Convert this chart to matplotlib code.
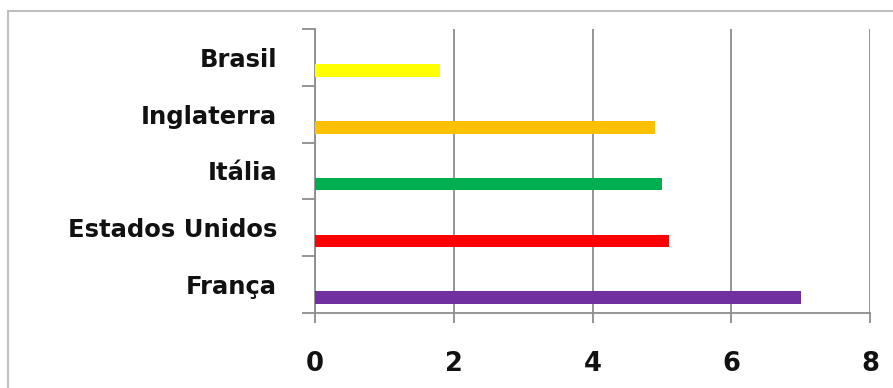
import matplotlib
matplotlib.use("Agg")
import matplotlib.pyplot as plt
from matplotlib.patches import Rectangle

categories = ["França", "Estados Unidos", "Itália", "Inglaterra", "Brasil"]
values = [7.0, 5.1, 5.0, 4.9, 1.8]
colors = ["#7030A0", "#FF0000", "#00B050", "#FFC000", "#FFFF00"]
xticks = [0, 2, 4, 6, 8]

plt.rcParams['font.family'] = ['DejaVu Sans']

W, H = 893, 388
PX = 72 / 100  # points per pixel
fig = plt.figure(figsize=(W / 100, H / 100), dpi=100)
fig.patch.set_facecolor("white")

left, right, top, bottom = 315, 870, 29, 313
ax = fig.add_axes([left / W, 1 - bottom / H, (right - left) / W, (bottom - top) / H])

ypos = list(range(len(categories)))
ax.barh([y - 0.23 for y in ypos], values, height=0.22, color=colors, zorder=3)

ax.set_xlim(0, 8)
ax.set_ylim(-0.5, len(categories) - 0.5)
ax.set_xticks(xticks)
ax.set_xticklabels([str(t) for t in xticks])

# y ticks at band boundaries, labels at band centers
ax.set_yticks([y - 0.5 for y in ypos] + [len(categories) - 0.5])
ax.set_yticklabels([])
ax.set_yticks(ypos, minor=True)
ax.set_yticklabels(categories, minor=True)

gcol = "#8C8C8C"
ax.grid(axis="x", color=gcol, linewidth=1.3, zorder=0)
for s in ["top", "right"]:
    ax.spines[s].set_visible(False)
for s in ["left", "bottom"]:
    ax.spines[s].set_color(gcol)
    ax.spines[s].set_linewidth(1.3)

ax.tick_params(axis="x", which="major", length=10 * PX, width=1.3, color=gcol,
               pad=28 * PX, labelsize=18.5, labelcolor="#111111")
ax.tick_params(axis="y", which="major", length=13 * PX, width=1.3, color=gcol)
ax.tick_params(axis="y", which="minor", length=0, pad=38 * PX, labelsize=17.5,
               labelcolor="#111111")
for lbl in ax.get_yticklabels(minor=True):
    lbl.set_fontweight("bold")
for lbl in ax.get_xticklabels():
    lbl.set_fontweight("bold")

# outer frame
fig.patches.append(Rectangle((8 / W, -0.1), 1.2, 1 - 11 / H + 0.1,
                             transform=fig.transFigure, fill=False,
                             edgecolor="#BFBFBF", linewidth=1.5, zorder=0))

fig.savefig("out.png", dpi=100)
